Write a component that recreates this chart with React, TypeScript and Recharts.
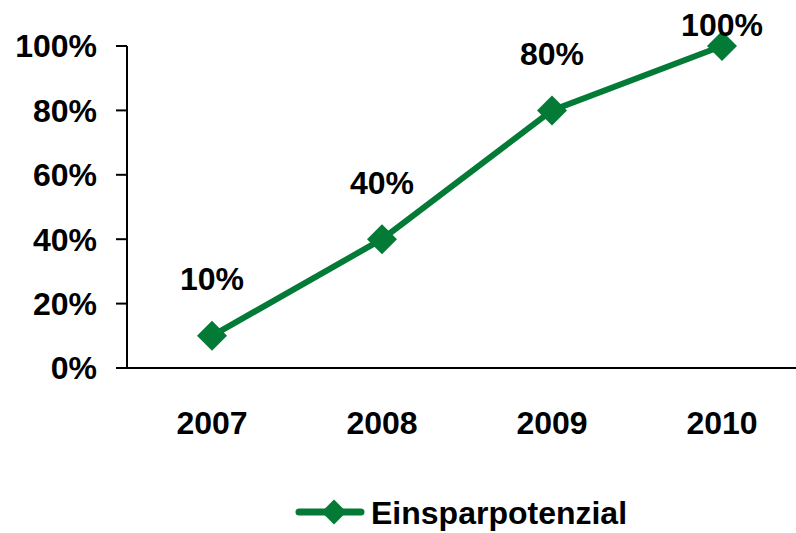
import React from 'react';
import { LineChart, Line, XAxis, YAxis, Legend, LabelList } from 'recharts';

const years = ['2007', '2008', '2009', '2010'];
const savings = [0.1, 0.4, 0.8, 1.0];
const yTicks = [0, 0.2, 0.4, 0.6, 0.8, 1.0];

const data = years.map((year, i) => ({ year, value: savings[i] }));

const GREEN = '#037A36';
const FONT = '"Liberation Sans", Arial, sans-serif';

const pct = (v: number) => `${Math.round(v * 100)}%`;

const Diamond = (props: any) => {
  const { cx, cy } = props;
  if (cx == null || cy == null) return null;
  const r = 15;
  return (
    <path
      d={`M${cx},${cy - r} L${cx + r},${cy} L${cx},${cy + r} L${cx - r},${cy} Z`}
      fill={GREEN}
    />
  );
};

const PointLabel = (props: any) => {
  const { x, y, value } = props;
  // keep the top label inside the chart, like the original
  const ly = Math.max(y - 57, 24);
  return (
    <text
      x={x}
      y={ly}
      dy="0.36em"
      textAnchor="middle"
      fontFamily={FONT}
      fontWeight="bold"
      fontSize={32}
      fill="#000"
    >
      {pct(value)}
    </text>
  );
};

const LegendContent = () => (
  <svg width={796} height={45} style={{ display: 'block' }}>
    <line x1={299} y1={24} x2={361} y2={24} stroke={GREEN} strokeWidth={7} strokeLinecap="round" />
    <path d="M334,11.5 L346.5,24 L334,36.5 L321.5,24 Z" fill={GREEN} />
    <text x={371} y={24} dy="0.36em" fontFamily={FONT} fontWeight="bold" fontSize={32} fill="#000">
      Einsparpotenzial
    </text>
  </svg>
);

export default function App() {
  return (
    <div style={{ position: 'absolute', left: 0, top: 0, width: 796, height: 533, overflow: 'hidden', background: '#fff' }}>
      <LineChart width={807} height={533} data={data} margin={{ top: 46, right: 0, bottom: 0, left: 0 }}>
        <XAxis
          dataKey="year"
          padding={{ left: 85, right: 85 }}
          axisLine={{ stroke: '#000', strokeWidth: 2 }}
          tickLine={false}
          tickSize={0}
          tickMargin={43}
          height={120}
          tick={{ fontFamily: FONT, fontWeight: 'bold', fontSize: 32, fill: '#000' }}
        />
        <YAxis
          domain={[0, 1]}
          ticks={yTicks}
          tickFormatter={pct}
          width={127}
          axisLine={{ stroke: '#000', strokeWidth: 2 }}
          tickLine={{ stroke: '#000', strokeWidth: 2 }}
          tickSize={11}
          tickMargin={19}
          tick={{ fontFamily: FONT, fontWeight: 'bold', fontSize: 32, fill: '#000' }}
        />
        <Legend verticalAlign="bottom" height={45} content={<LegendContent />} />
        <Line
          type="linear"
          dataKey="value"
          name="Einsparpotenzial"
          stroke={GREEN}
          strokeWidth={6}
          dot={<Diamond />}
          activeDot={false}
          isAnimationActive={false}
        >
          <LabelList dataKey="value" content={<PointLabel />} />
        </Line>
      </LineChart>
    </div>
  );
}
